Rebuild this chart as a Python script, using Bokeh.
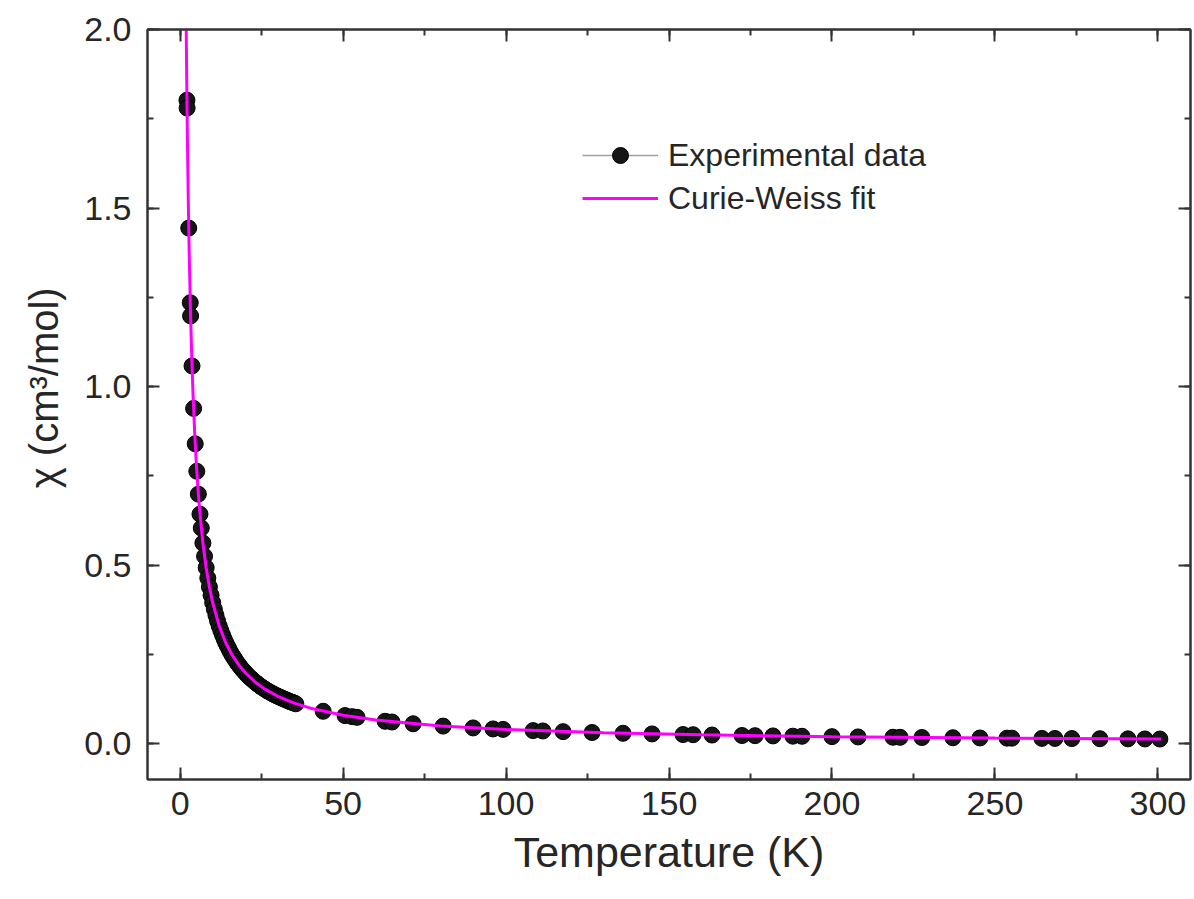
from bokeh.plotting import figure
from bokeh.models import (Range1d, LinearAxis, Legend, LegendItem, SingleIntervalTicker,
                          NumeralTickFormatter, CustomJSTickFormatter)
from bokeh.embed import file_html
from bokeh.resources import INLINE

# ---- data ----
temp_exp = [2.1, 2.15, 2.65, 3.12, 3.22, 3.66, 4.14, 4.64, 5.12, 5.6, 6.1,
            6.5, 7.0, 7.5, 8.0, 8.5, 9.0, 9.5, 10.0, 10.5, 11.0, 11.5, 12.0, 12.5,
            13.0, 13.5, 14.0, 14.5, 15.0, 15.5, 16.0, 16.5, 17.0, 17.5, 18.0, 18.5,
            19.0, 19.5, 20.0, 20.5, 21.0, 21.5, 22.0, 22.5, 23.0, 23.5, 24.0, 24.5,
            25.0, 25.5, 26.0, 26.5, 27.0, 27.5, 28.0, 28.5, 29.0, 29.5, 30.0, 30.5,
            31.0, 31.5, 32.0, 32.5, 33.0, 33.5, 34.0, 34.5, 35.0, 35.5,
            43.9, 50.6, 52.8, 54.3, 62.9, 65.0, 71.5, 80.7, 89.9, 96.0, 99.1,
            108.3, 111.3, 117.5, 126.4, 135.9, 144.8, 154.3, 157.4, 163.2, 172.4,
            176.4, 181.9, 188.0, 190.8, 200.0, 208.0, 218.7, 220.9, 227.6, 237.1,
            245.4, 253.7, 255.2, 264.4, 268.4, 273.6, 282.2, 290.8, 296.0, 300.6]
chi_exp = [1.802, 1.78, 1.444, 1.235, 1.198, 1.058, 0.939, 0.840, 0.763, 0.699, 0.643,
           0.604, 0.562, 0.525, 0.493, 0.464, 0.439, 0.416, 0.395, 0.377, 0.360, 0.344,
           0.330, 0.317, 0.305, 0.294, 0.283, 0.274, 0.265, 0.256, 0.248, 0.241, 0.234,
           0.227, 0.221, 0.215, 0.209, 0.204, 0.199, 0.194, 0.189, 0.185, 0.181, 0.177,
           0.173, 0.169, 0.166, 0.162, 0.159, 0.156, 0.153, 0.150, 0.147, 0.145, 0.142,
           0.140, 0.137, 0.135, 0.133, 0.131, 0.129, 0.127, 0.125, 0.123, 0.121, 0.119,
           0.117, 0.116, 0.114, 0.112,
           0.091, 0.079, 0.076, 0.074, 0.063, 0.061, 0.056, 0.0495, 0.0444, 0.0416,
           0.0403, 0.0369, 0.0359, 0.0340, 0.0316, 0.0294, 0.0276, 0.0259, 0.0254,
           0.0245, 0.0232, 0.0227, 0.0220, 0.0213, 0.0210, 0.0200, 0.0192, 0.0183,
           0.0181, 0.0176, 0.0169, 0.0163, 0.0158, 0.0157, 0.0151, 0.0149, 0.0146,
           0.0142, 0.0138, 0.0135, 0.0133]

temp_fit = [1.88, 2.0, 2.2, 2.5, 2.8, 3.2, 3.6, 4.0, 4.5, 5.0, 5.5, 6.0, 7.0, 8.0, 9.0,
            10.0, 12.0, 14.0, 16.0, 18.0, 20.0, 23.0, 26.0, 30.0, 35.0, 40.0, 50.0,
            60.0, 80.0, 100.0, 130.0, 160.0, 200.0, 250.0, 301.0]
chi_fit = [2.000, 1.887, 1.724, 1.527, 1.370, 1.205, 1.075, 0.971, 0.866, 0.781, 0.712,
           0.654, 0.562, 0.493, 0.439, 0.395, 0.330, 0.283, 0.248, 0.221, 0.199, 0.173,
           0.153, 0.133, 0.114, 0.0997, 0.0798, 0.0665, 0.0499, 0.0400, 0.0307, 0.0250,
           0.0200, 0.0160, 0.0133]

label_exp = "Experimental data"
label_fit = "Curie-Weiss fit"
x_title = "Temperature (K)"
y_title = "\u00a0\u00a0\u00a0\u03c7 (cm\u00b3/mol)"

FONT = "Liberation Sans"
TXT = "#262626"
AX = "#333333"

p = figure(width=1194, height=893, output_backend="svg", toolbar_location=None,
           x_range=Range1d(-10, 310), y_range=Range1d(-0.1, 2.0),
           x_axis_type=None, y_axis_type=None,
           min_border_left=147, min_border_top=29, min_border_right=4, min_border_bottom=114)
p.outline_line_color = AX
p.outline_line_width = 2
p.background_fill_color = "white"
p.border_fill_color = "white"
p.xgrid.visible = False
p.ygrid.visible = False


def style_axis(ax, show_labels):
    ax.axis_line_color = AX
    ax.axis_line_width = 2
    ax.major_tick_line_color = AX
    ax.major_tick_line_width = 2
    ax.minor_tick_line_color = AX
    ax.minor_tick_line_width = 2
    ax.major_tick_in = 12
    ax.major_tick_out = 0
    ax.minor_tick_in = 6
    ax.minor_tick_out = 0
    if show_labels:
        ax.major_label_text_font = FONT
        ax.major_label_text_font_size = "34px"
        ax.major_label_text_color = TXT
        ax.major_label_standoff = 12
        ax.axis_label_text_font = FONT
        ax.axis_label_text_font_style = "normal"
        ax.axis_label_text_font_size = "43px"
        ax.axis_label_text_color = TXT
    else:
        ax.formatter = CustomJSTickFormatter(code="return '';")
        ax.major_label_standoff = 0


xt = SingleIntervalTicker(interval=50, num_minor_ticks=2)
yt = SingleIntervalTicker(interval=0.5, num_minor_ticks=2)

xb = LinearAxis(ticker=xt, axis_label=x_title)
style_axis(xb, True)
xb.axis_label_standoff = 10
p.add_layout(xb, "below")

yl = LinearAxis(ticker=yt, axis_label=y_title, formatter=NumeralTickFormatter(format="0.0"))
style_axis(yl, True)
yl.axis_label_text_font_size = "40px"
yl.major_label_standoff = 16
yl.axis_label_standoff = 15
p.add_layout(yl, "left")

xtop = LinearAxis(ticker=SingleIntervalTicker(interval=50, num_minor_ticks=2))
style_axis(xtop, False)
p.add_layout(xtop, "above")

yr = LinearAxis(ticker=SingleIntervalTicker(interval=0.5, num_minor_ticks=2))
style_axis(yr, False)
p.add_layout(yr, "right")

line_exp = p.line(temp_exp, chi_exp, line_color="#a0a0a0", line_width=1.5)
pts = p.scatter(temp_exp, chi_exp, marker="circle", size=16, fill_color="#161616",
                line_color="#000000", line_width=1)
fit = p.line(temp_fit, chi_fit, line_color="#ff00ff", line_width=3)

legend = Legend(items=[LegendItem(label=label_exp, renderers=[line_exp, pts]),
                       LegendItem(label=label_fit, renderers=[fit])],
                location=(435, 561))
legend.border_line_color = None
legend.background_fill_alpha = 0
legend.label_text_font = FONT
legend.label_text_font_size = "32px"
legend.label_text_color = TXT
legend.glyph_width = 76
legend.glyph_height = 40
legend.label_height = 40
legend.label_standoff = 10
legend.spacing = 3
legend.padding = 0
legend.margin = 0
p.add_layout(legend, "center")

open("out.html", "w").write(file_html(p, INLINE))
